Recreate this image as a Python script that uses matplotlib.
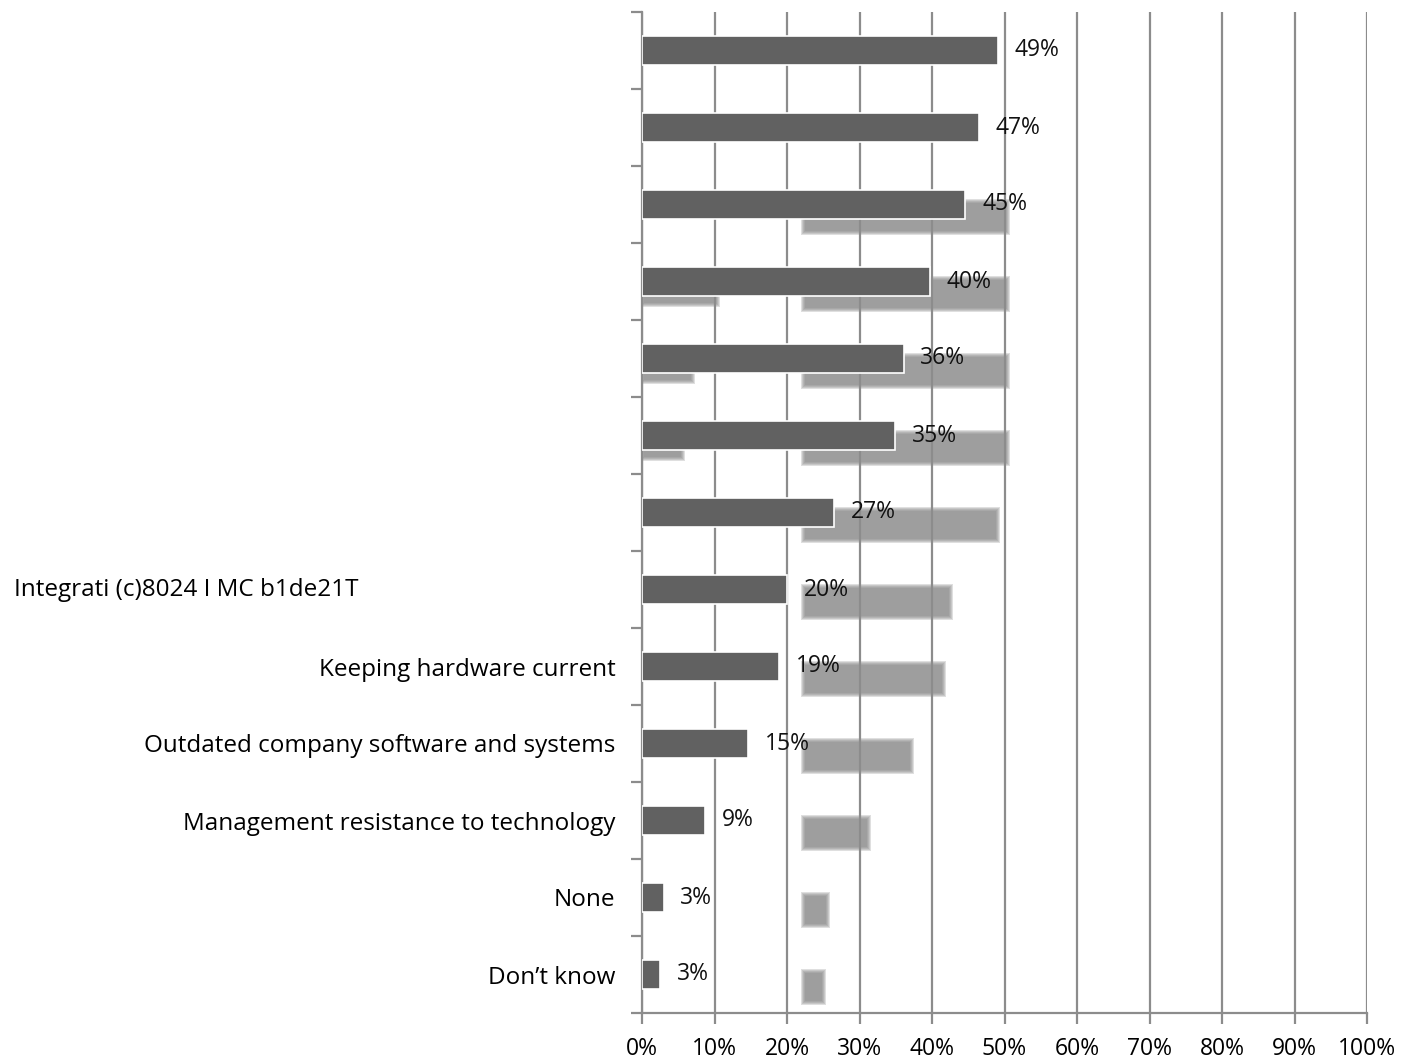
import matplotlib.pyplot as plt
import matplotlib.transforms as mtransforms
import numpy as np

# categories from top to bottom (top ones have no readable label)
categories = ["", "", "", "", "", "", "",
              "Integrati (c)8024 I MC b1de21T",
              "Keeping hardware current",
              "Outdated company software and systems",
              "Management resistance to technology",
              "None",
              "Don\u2019t know"]
values = [49.1, 46.5, 44.6, 39.7, 36.1, 34.9, 26.5, 20.0, 18.9, 14.6, 8.7, 3.0, 2.5]
value_labels = ["49%", "47%", "45%", "40%", "36%", "35%", "27%",
                "20%", "19%", "15%", "9%", "3%", "3%"]

# faded grey ghost bars visible behind the main bars
ghost_start = 22.2
ghost_end = [0, 0, 50.5, 50.5, 50.5, 50.5, 49.1, 42.6, 41.6, 37.2, 31.3, 25.6, 25.1]
ghost_left_piece = [0, 0, 0, 10.5, 7.0, 5.7, 0, 0, 0, 0, 0, 0, 0]

plt.rcParams['font.family'] = ['Open Sans', 'DejaVu Sans']

fig = plt.figure(figsize=(14.14, 10.64), dpi=100)
ax = fig.add_axes([642 / 1414, 51 / 1064, 725 / 1414, 1001 / 1064])

n = len(categories)
y = np.arange(n)

bar_color = '#616161'
ghost_color = '#838383'
grid_color = '#8c8c8c'

px_x = 100 / 725   # one pixel in x data units
px_y = 1 / 77      # one pixel in y data units


def ghost(yc, left, right, h):
    # soft edged bar: stacked translucent layers to fake a blur
    for k in range(-2, 3):
        ax.barh(yc, right - left - 2 * k * px_x, left=left + k * px_x,
                height=h - 2 * k * px_y, color=ghost_color, alpha=0.25,
                zorder=1, linewidth=0)


for i in range(n):
    if ghost_end[i] > 0:
        ghost(y[i] + 0.16, ghost_start, ghost_end[i], 0.42)
    if ghost_left_piece[i] > 0:
        ghost(y[i] + 0.16, 0, ghost_left_piece[i], 0.28)

ax.barh(y, values, height=0.38, color=bar_color, edgecolor='white',
        linewidth=1.2, zorder=3)

for i in range(n):
    ax.text(values[i] + 2.3, y[i], value_labels[i], va='center', ha='left',
            fontsize=16.5, color='#111111', zorder=4)

ax.set_xlim(0, 100)
ax.set_ylim(n - 0.5, -0.5)

ax.set_xticks(np.arange(0, 101, 10))
ax.set_xticklabels([f"{v}%" for v in range(0, 101, 10)], fontsize=16.5)
ax.xaxis.grid(True, color=grid_color, linewidth=1.6, zorder=2)
ax.set_axisbelow(False)

ax.set_yticks(np.arange(-0.5, n, 1.0), minor=True)
ax.set_yticks(y)
labels_shown = [c if i != 7 else "" for i, c in enumerate(categories)]
ax.set_yticklabels(labels_shown, fontsize=17.5)
ax.tick_params(axis='y', which='major', length=0, pad=19)
ax.tick_params(axis='y', which='minor', length=8, color=grid_color, width=1.6)
ax.tick_params(axis='x', length=8, color=grid_color, width=1.6, pad=9)

trans = mtransforms.blended_transform_factory(fig.transFigure, ax.transData)
ax.text(14 / 1414, y[7], categories[7], transform=trans, ha='left',
        va='center', fontsize=17.5)

for side in ['top', 'right']:
    ax.spines[side].set_visible(False)
for side in ['left', 'bottom']:
    ax.spines[side].set_color(grid_color)
    ax.spines[side].set_linewidth(1.6)

fig.savefig('out.png', dpi=100)
